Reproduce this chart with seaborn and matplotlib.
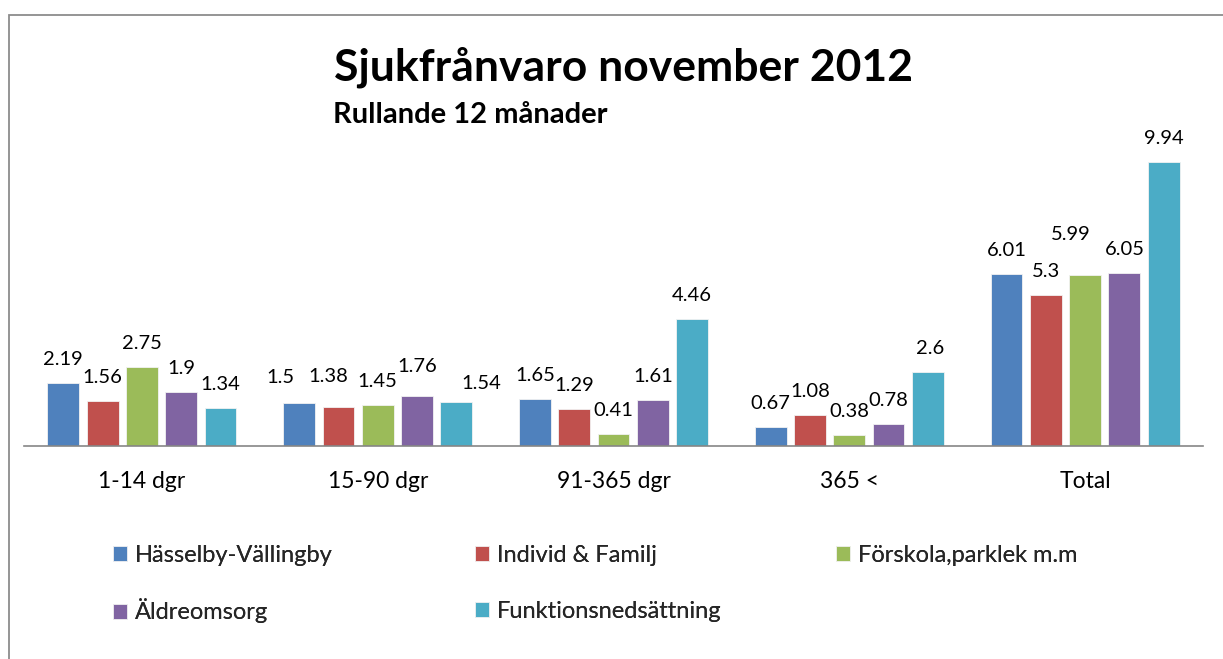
import matplotlib
matplotlib.use("Agg")
import matplotlib.pyplot as plt
from matplotlib.patches import Rectangle
import pandas as pd
import seaborn as sns

# ---- data -------------------------------------------------------------
categories = ["1-14 dgr", "15-90 dgr", "91-365 dgr", "365 <", "Total"]
units = ["Hässelby-Vällingby", "Individ & Familj", "Förskola,parklek m.m",
         "Äldreomsorg", "Funktionsnedsättning"]
hasselby = [2.19, 1.50, 1.65, 0.67, 6.01]
individ = [1.56, 1.38, 1.29, 1.08, 5.30]
forskola = [2.75, 1.45, 0.41, 0.38, 5.99]
aldreomsorg = [1.90, 1.76, 1.61, 0.78, 6.05]
funktion = [1.34, 1.54, 4.46, 2.60, 9.94]
value_labels = ["2.19", "1.5", "1.65", "0.67", "6.01",
                "1.56", "1.38", "1.29", "1.08", "5.3",
                "2.75", "1.45", "0.41", "0.38", "5.99",
                "1.9", "1.76", "1.61", "0.78", "6.05",
                "1.34", "1.54", "4.46", "2.6", "9.94"]

title = "Sjukfrånvaro november 2012"
subtitle = "Rullande 12 månader"

series = [hasselby, individ, forskola, aldreomsorg, funktion]
df = pd.DataFrame([
    {"Kategori": c, "Enhet": u, "Värde": v}
    for u, vals in zip(units, series)
    for c, v in zip(categories, vals)
])

palette = ["#4F81BD", "#C0504D", "#9BBB59", "#8064A2", "#4BACC6"]

# ---- styling ----------------------------------------------------------
sns.set_theme(style="white")
plt.rcParams["font.family"] = ["Lato", "DejaVu Sans"]

W, H = 1223, 659
fig = plt.figure(figsize=(W / 100, H / 100), dpi=100)
fig.patch.set_facecolor("white")

# plot area in pixel terms
ax_left, ax_right, ax_base, ymax = 24, 1203, 446, 11.0
px_per_unit = 28.57
ax_top = ax_base - ymax * px_per_unit
ax = fig.add_axes([ax_left / W, 1 - ax_base / H,
                   (ax_right - ax_left) / W, (ax_base - ax_top) / H])

sns.barplot(data=df, x="Kategori", y="Värde", hue="Enhet", order=categories,
            hue_order=units, palette=palette, width=0.833, gap=0.19,
            edgecolor="#F2F2F2", linewidth=0.6, saturation=1, ax=ax)

ax.set_ylim(0, ymax)
ax.set_xlim(-0.5, len(categories) - 0.5)
ax.set_yticks([])
ax.set_xlabel("")
ax.set_ylabel("")
for side in ("top", "left", "right"):
    ax.spines[side].set_visible(False)
ax.spines["bottom"].set_color("#868686")
ax.spines["bottom"].set_linewidth(1.2)
ax.tick_params(axis="x", length=0, pad=18, labelsize=16.5, labelcolor="black")

# value labels above bars, a few nudged sideways/up to keep them clear
nudges = {(1, 0): (-19, 2.5), (1, 1): (-10, 6.5), (1, 3): (0, 5.5),
          (1, 4): (25, -4.5), (4, 2): (-14, 16.5), (3, 4): (2, 0)}
for s, cont in enumerate(ax.containers):
    for c, bar in enumerate(cont):
        dx, dy = nudges.get((c, s), (0, 0))
        ax.annotate(value_labels[s * len(categories) + c],
                    (bar.get_x() + bar.get_width() / 2, bar.get_height()),
                    xytext=(dx, 23.5 + dy), textcoords="offset pixels",
                    ha="center", va="center", fontsize=14.5, color="black")

# legend: one entry per slot on a fixed 3-column grid
handles, labels = ax.get_legend_handles_labels()
ax.get_legend().remove()
lookup = dict(zip(labels, handles))
col_x = [113, 475, 836]
row_y = [555, 611]
slots = [(0, 0), (0, 1), (0, 2), (1, 0), (1, 1)]
for name, (r, c) in zip(units, slots):
    leg = fig.legend([lookup[name]], [name], loc="center left",
                     bbox_to_anchor=(col_x[c] / W, 1 - row_y[r] / H),
                     frameon=False, fontsize=17, handlelength=0.6,
                     handleheight=0.6, handletextpad=0.34,
                     borderaxespad=0, borderpad=0)
    fig.add_artist(leg)

# titles
fig.text(334 / W, 1 - 67 / H, title, fontsize=32, fontweight="bold",
         ha="left", va="center", color="black")
fig.text(333 / W, 1 - 115 / H, subtitle, fontsize=21, fontweight="bold",
         ha="left", va="center", color="black")

# chart frame
fig.add_artist(Rectangle((9 / W, -0.2), 1.5, (H - 15) / H + 0.2,
                         transform=fig.transFigure, fill=False,
                         edgecolor="#8C8C8C", linewidth=1.3))

fig.savefig("out.png", dpi=100, facecolor="white")
